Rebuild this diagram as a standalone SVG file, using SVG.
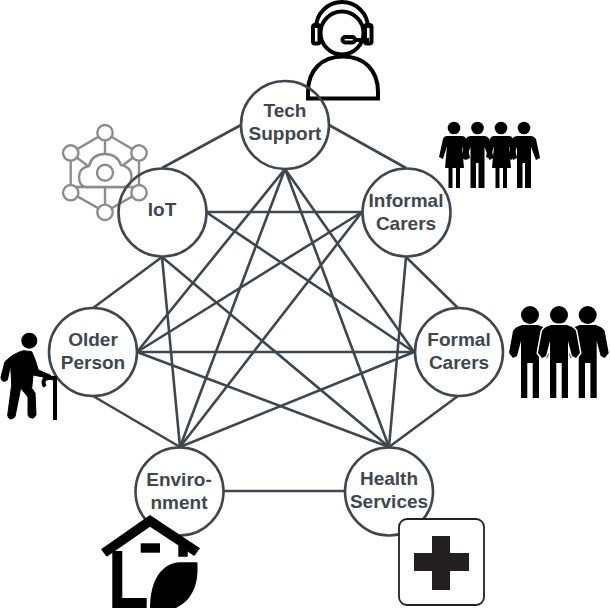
<svg xmlns="http://www.w3.org/2000/svg" xmlns:xlink="http://www.w3.org/1999/xlink" width="610" height="608" viewBox="0 0 610 608">
<style>
.e{stroke:#3e474f;stroke-width:2.6;fill:none}
.n{stroke:#3e474f;stroke-width:2.6;fill:none}
.t{font-family:"Liberation Sans",Arial,sans-serif;font-weight:700;font-size:19px;fill:#3e474f;text-anchor:middle}
.i{stroke:#8c8c8c;stroke-width:2.400;fill:#fff}
.l{stroke:#8c8c8c;stroke-width:2.400;fill:none}
.k{stroke:#000;stroke-width:4;fill:none}
</style>
<defs>
<g id="f"><circle cx="0" cy="128" r="6.300"/><path d="M-7,136H8Q11,136 12,139L16,158 12,160 8,146 10,168H6V188H2V168H-1.500V188H-5.500V168H-9L-7,146-11,159-15,157-11,139Q-10,136-7,136Z"/></g>
<g id="m"><circle cx="0" cy="128" r="6.300"/><path d="M-7,136H7Q10,136 12,139L16,158 12,160 7,147V188H1V163H-1.500V188H-7V147L-12,160-16,158-12,139Q-10,136-7,136Z"/></g>
<g id="b"><circle cx="0" cy="315" r="9"/><path d="M-8,325H8Q15,327 17,331L21,353 17,358 13,356 9,341V398H2.700V363H-2.700V398H-9V341L-13,356-17,358-21,353-17,331Q-15,327-8,325Z"/></g>
</defs>
<g id="connectors" class="e">
<path d="M241,125L162,168M329,125L406,168"/>
<path d="M285,169L137,352M285,169L180,447M285,169L414,352M285,169L389,447"/>
<path d="M206,212H362M206,212L414,352M162,257L93,308M162,257L180,447M162,257L389,447"/>
<path d="M362,212L137,352M362,212L180,447M406,257L458,308M406,257L389,447"/>
<path d="M137,352H414M137,352L389,447M93,396L180,447"/>
<path d="M180,447L414,352M458,396L389,447M224,491H345"/>
</g>
<g id="icon-iot">
<path class="l" d="M105,133L139,153V192.500L105,212L70.700,192.500V153ZM105,133V156M105,212V187M70.700,153L88,166M139,153L122,166M70.700,187H139"/>
<path class="i" d="M86,187Q79,186 79,177Q79,168 89,166Q92,154 105,154Q117,154 121,165Q131.500,167 131.500,177Q131.500,186 124,187Z"/>
<circle class="l" cx="105" cy="172.700" r="8"/>
<circle class="i" cx="105" cy="132.700" r="7.700"/><circle class="i" cx="70.700" cy="153" r="7.700"/><circle class="i" cx="139" cy="153" r="7.700"/><circle class="i" cx="70.700" cy="192.700" r="7.700"/><circle class="i" cx="139" cy="192.700" r="7.700"/><circle class="i" cx="105" cy="212.300" r="7.700"/>
</g>
<g id="icon-support">
<circle class="k" cx="342" cy="33" r="21.500"/>
<path class="k" d="M316,28A26,26 0 0 1 368,28"/>
<rect class="k" x="313" y="25" width="6.500" height="18.500" rx="2"/><rect class="k" x="365" y="25" width="6.500" height="18.500" rx="2"/>
<rect class="k" x="342.500" y="37" width="12.500" height="5.500" rx="2.700"/><path class="k" stroke-width="2.500" d="M355,40H369"/>
<path class="k" d="M308,98.500V92C308,70 322,56.500 343,56.500C364,56.500 378,70 378,92V98.500Z"/>
</g>
<g id="tech-support"><circle class="n" cx="285" cy="125" r="44"/><text class="t" x="285" y="117">Tech</text><text class="t" x="285" y="140">Support</text></g>
<g id="iot"><circle class="n" cx="162.500" cy="212.500" r="44"/><text class="t" x="162" y="216">IoT</text></g>
<g id="informal-carers"><circle class="n" cx="406.500" cy="212.500" r="44"/><text class="t" x="406" y="207">Informal</text><text class="t" x="406" y="230">Carers</text></g>
<g id="older-person"><circle class="n" cx="93" cy="352" r="44"/><text class="t" x="93" y="346">Older</text><text class="t" x="93" y="369">Person</text></g>
<g id="formal-carers"><circle class="n" cx="459" cy="352" r="44"/><text class="t" x="459" y="346">Formal</text><text class="t" x="459" y="369">Carers</text></g>
<g id="environment"><circle class="n" cx="179.500" cy="491.500" r="44"/><text class="t" x="179" y="486">Enviro-</text><text class="t" x="179" y="509">nment</text></g>
<g id="health-services"><circle class="n" cx="389" cy="491.500" r="44"/><text class="t" x="389" y="485">Health</text><text class="t" x="389" y="508">Services</text></g>
<g id="icon-informal">
<use xlink:href="#f" href="#f" x="454"/><use xlink:href="#m" href="#m" x="477.500"/><use xlink:href="#f" href="#f" x="501"/><use xlink:href="#m" href="#m" x="524"/>
</g>
<g id="icon-formal">
<use xlink:href="#b" href="#b" x="530"/><use xlink:href="#b" href="#b" x="587.700"/><use xlink:href="#b" href="#b" x="559" stroke="#fff" stroke-width="3" paint-order="stroke"/>
</g>
<g id="icon-older">
<circle cx="29.300" cy="340.700" r="8"/>
<path d="M23.300,350.700L31.700,351.700Q35,358 38.300,370L50,375 53,380 41.700,376.700 33,375 31.700,388.300 35,393 36,415Q34,419 31.700,418Q29,418 28,415L28,397 20.700,388 15,416.700Q13,419 10,419Q8,418 7.700,415L11.700,385 10.700,365 7.300,380Q5,382 2.700,381Q1,380 1,377L5,361.700Q14,353 23.300,350.700Z" stroke="#000" stroke-linejoin="round"/>
<path d="M45,386.700Q42,382 45,379Q50,377 55,378V420" fill="none" stroke="#000" stroke-width="4"/>
</g>
<g id="icon-environment">
<path d="M113,608V549L150,520 188,549V560H113Z" fill="#fff"/>
<path d="M101,549.300L150,515 200,548.300 194.300,556 150,526.700 106.700,556.700Z"/>
<path d="M112.300,551H122.300V598H146.700V608H112.300ZM178.300,545L187.700,551V556.700H178.300Z"/>
<rect x="140.700" y="543.300" width="19.300" height="9.400"/>
<path d="M150,608C150,580 162,563 180,562.300H197.300C199,585 192,600 176,608Z"/>
</g>
<g id="icon-health">
<rect x="399" y="519" width="85" height="86" rx="8" fill="#fff" stroke="#222" stroke-width="1.800"/>
<path d="M432,536H450V553H469V571H450V590H432V571H414V553H432Z" fill="#231f20"/>
</g>
</svg>
